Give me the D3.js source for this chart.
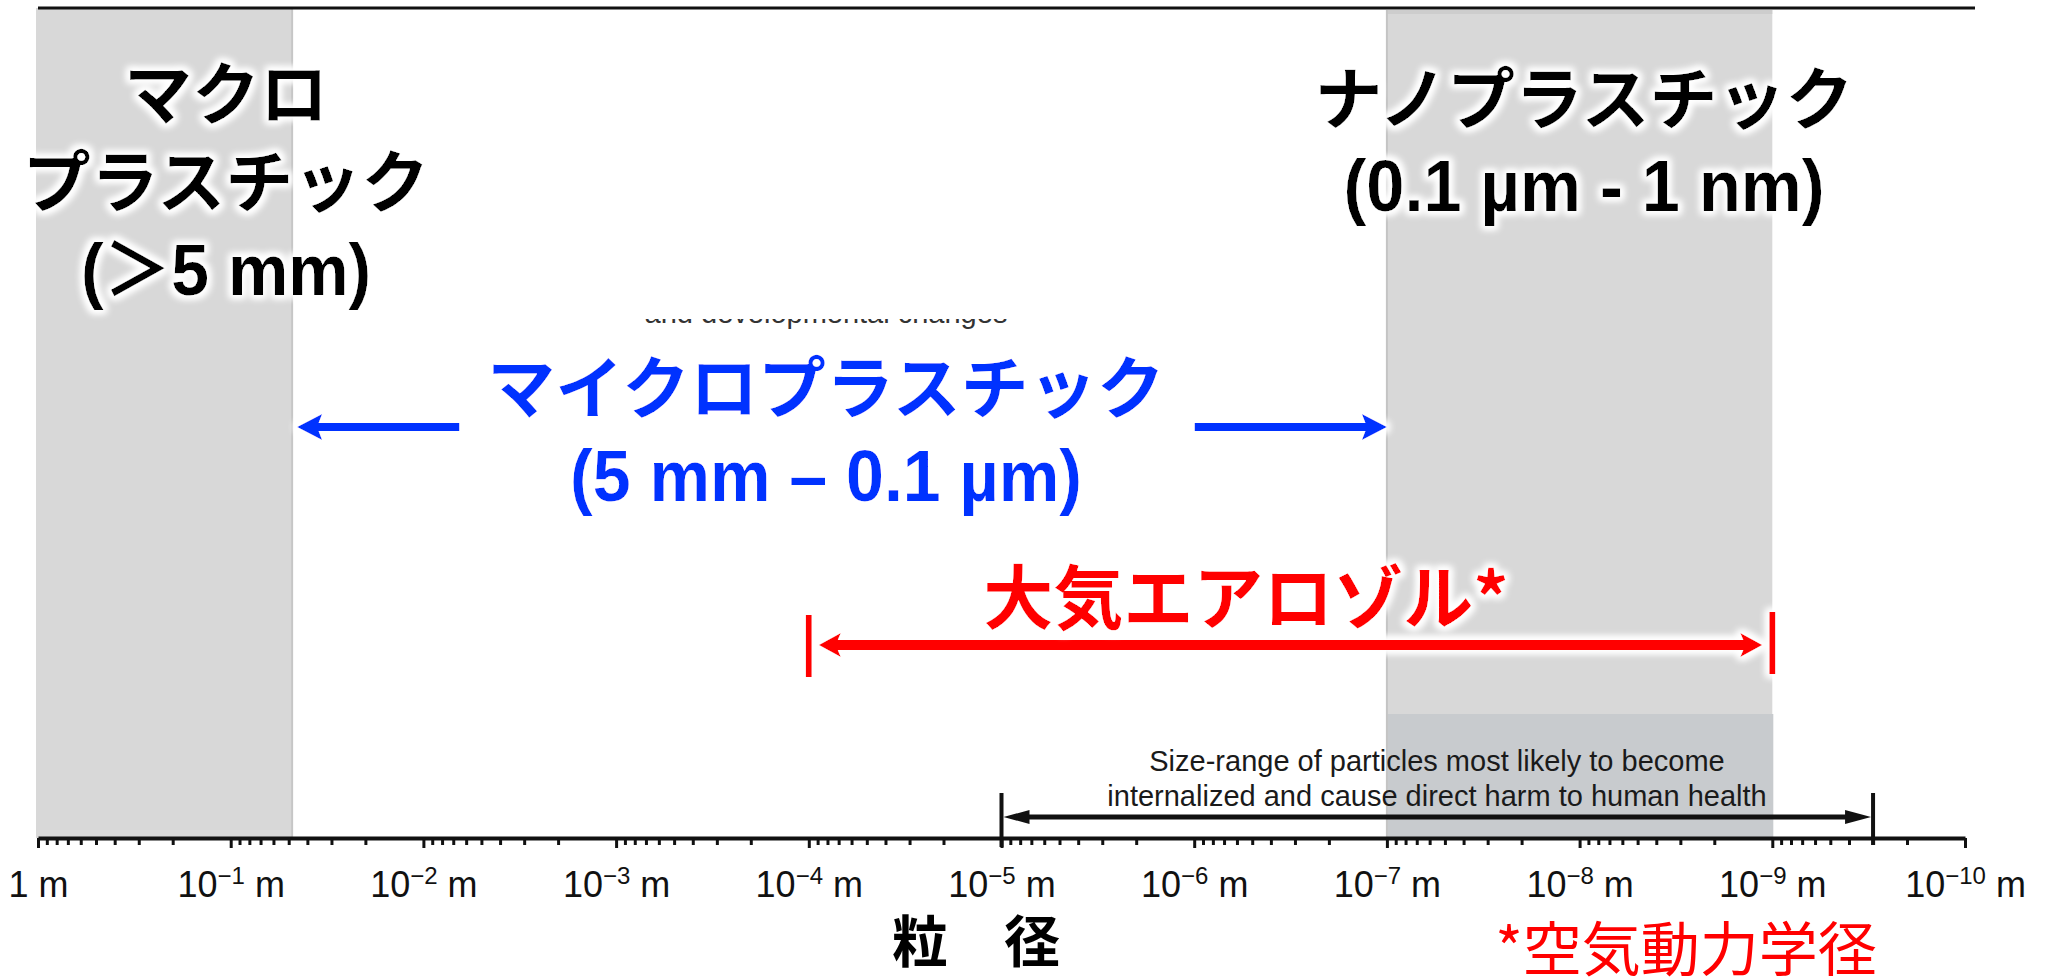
<!DOCTYPE html>
<html>
<head>
<meta charset="utf-8">
<script src="https://cdn.jsdelivr.net/npm/d3@7"></script>
<style>
  body { margin: 0; background: #fff; }
  svg { display: block; }
</style>
</head>
<body>
<script>
// particle size ranges in metres (axis runs from 1 m down to 1e-10 m)
var tickExponents = [0, -1, -2, -3, -4, -5, -6, -7, -8, -9, -10];
var macroRange = [1, 0.048];
var nanoRange = [1e-7, 1e-9];
var microRange = [0.048, 1e-7];
var aerosolRange = [1e-4, 1e-9];
var harmRange = [1e-5, 3e-10];

var macroLines = ["マクロ", "プラスチック", "(＞5 mm)"];
var nanoLines = ["ナノプラスチック", "(0.1 µm - 1 nm)"];
var microLines = ["マイクロプラスチック", "(5 mm – 0.1 µm)"];
var aerosolLabel = "大気エアロゾル*";
var harmLines = ["Size-range of particles most likely to become", "internalized and cause direct harm to human health"];
var leftoverText = "and developmental changes";
var axisTitle = "粒　径";
var footnote = "*空気動力学径";

var W = 2048, H = 977;
var axisY = 838;
var JP = "'Noto Sans CJK JP', sans-serif";
var LAT = "'Liberation Sans', Arial, 'Noto Sans CJK JP', sans-serif";

var svg = d3.select("body").append("svg").attr("width", W).attr("height", H);
svg.append("rect").attr("width", W).attr("height", H).attr("fill", "#fff");

var defs = svg.append("defs");
var glow = defs.append("filter").attr("id", "glow")
  .attr("x", "-20%").attr("y", "-40%").attr("width", "140%").attr("height", "180%");
glow.append("feMorphology").attr("in", "SourceAlpha").attr("operator", "dilate").attr("radius", 3).attr("result", "d");
glow.append("feGaussianBlur").attr("in", "d").attr("stdDeviation", 3.5).attr("result", "b");
glow.append("feFlood").attr("flood-color", "#fff");
glow.append("feComposite").attr("in2", "b").attr("operator", "in").attr("result", "g");
var gm = glow.append("feMerge");
gm.append("feMergeNode").attr("in", "g");
gm.append("feMergeNode").attr("in", "g");
gm.append("feMergeNode").attr("in", "SourceGraphic");

defs.append("clipPath").attr("id", "leftClip")
  .append("rect").attr("x", 0).attr("y", 319).attr("width", W).attr("height", 20);

var x = d3.scaleLog().domain([1, 1e-10]).range([38, 1965]);

// grey bands
svg.append("rect")
  .attr("x", x(macroRange[0]) - 2).attr("y", 8)
  .attr("width", x(macroRange[1]) - x(macroRange[0]) + 2).attr("height", axisY - 8)
  .attr("fill", "#d8d8d8");
svg.append("line")
  .attr("x1", x(macroRange[1])).attr("x2", x(macroRange[1]))
  .attr("y1", 8).attr("y2", axisY).attr("stroke", "#c6c6c6").attr("stroke-width", 2);

svg.append("rect")
  .attr("x", x(nanoRange[0])).attr("y", 10)
  .attr("width", x(nanoRange[1]) - x(nanoRange[0])).attr("height", axisY - 10)
  .attr("fill", "#d8d8d8");
svg.append("rect")
  .attr("x", x(nanoRange[0])).attr("y", 10)
  .attr("width", x(nanoRange[1]) - x(nanoRange[0])).attr("height", 4)
  .attr("fill", "#cdcdcd");
svg.append("rect")
  .attr("x", x(nanoRange[0])).attr("y", 714)
  .attr("width", x(nanoRange[1]) - x(nanoRange[0]) + 1).attr("height", axisY - 714)
  .attr("fill", "#c8cbce");
svg.append("line")
  .attr("x1", x(nanoRange[0])).attr("x2", x(nanoRange[0]))
  .attr("y1", 10).attr("y2", axisY).attr("stroke", "#c4c4c4").attr("stroke-width", 2);

// top rule
svg.append("line").attr("x1", 38).attr("x2", 1975).attr("y1", 8).attr("y2", 8)
  .attr("stroke", "#111").attr("stroke-width", 3);

// leftover text fragment (only its lower edge shows)
svg.append("text")
  .attr("x", 826).attr("y", 323)
  .attr("text-anchor", "middle")
  .attr("clip-path", "url(#leftClip)")
  .style("font-family", LAT).style("font-size", "29px").attr("fill", "#333")
  .text(leftoverText);

// axis
var minorTicks = [];
tickExponents.slice(0, -1).forEach(function(e) {
  for (var k = 2; k <= 9; k++) minorTicks.push(k * Math.pow(10, e - 1));
});
var majorTicks = tickExponents.map(function(e) { return Math.pow(10, e); });

var axisG = svg.append("g").attr("transform", "translate(0," + axisY + ")");
axisG.append("g")
  .call(d3.axisBottom(x).tickValues(minorTicks).tickFormat("").tickSize(7).tickSizeOuter(0))
  .call(function(g) { g.select(".domain").remove(); g.selectAll("text").remove(); })
  .selectAll("line").attr("stroke", "#111").attr("stroke-width", 3);
var majorAxis = axisG.append("g")
  .call(d3.axisBottom(x).tickValues(majorTicks).tickSize(10).tickSizeOuter(0));
majorAxis.select(".domain").attr("stroke", "#111").attr("stroke-width", 4);
majorAxis.selectAll(".tick line").attr("stroke", "#111").attr("stroke-width", 3);
majorAxis.selectAll(".tick text").each(function(d, i) {
  var t = d3.select(this).text("")
    .attr("y", 59).attr("dy", null)
    .attr("fill", "#111")
    .style("font-family", LAT).style("font-size", "36px");
  var e = tickExponents[i];
  if (e === 0) {
    t.append("tspan").text("1 m");
  } else {
    t.append("tspan").text("10");
    t.append("tspan").attr("dy", -13).style("font-size", "24px").text("\u2212" + Math.abs(e));
    t.append("tspan").attr("dy", 13).text(" m");
  }
});

// glowing labels; latin lines get a fixed width (the source font is taller/narrower)
function block(lines, cx, y0, step, size, color, widths) {
  var t = svg.append("text")
    .attr("text-anchor", "middle")
    .attr("filter", "url(#glow)")
    .attr("fill", color)
    .style("font-weight", 700);
  lines.forEach(function(s, i) {
    var jp = /^[\u3040-\u30ff\u4e00-\u9fff]/.test(s);
    var sp = t.append("tspan").attr("x", cx).attr("y", y0 + i * step)
      .style("font-family", jp ? JP : LAT)
      .style("font-size", (jp ? size : size + 4) + "px")
      .text(s);
    if (widths && widths[i]) sp.attr("textLength", widths[i]).attr("lengthAdjust", "spacingAndGlyphs");
  });
  return t;
}

block(macroLines, 226, 119, 88, 68, "#000", [0, 0, 290]);
block(nanoLines, 1584, 124, 87, 68, "#000", [0, 481]);

var micro = block(microLines, 826, 413, 88, 68, "#0033ff", [0, 512]);

// micro arrows, broken around the title
var bb = micro.node().getBBox();
var arrowY = 427;
function arrowHead(g, tipX, y, dir, color, len, half) {
  g.append("path")
    .attr("d", "M" + tipX + "," + y +
      " L" + (tipX + dir * len) + "," + (y - half) +
      " L" + (tipX + dir * (len - 5)) + "," + y +
      " L" + (tipX + dir * len) + "," + (y + half) + "Z")
    .attr("fill", color);
}
var blueG = svg.append("g").attr("filter", "url(#glow)");
var mL = x(microRange[0]) + 5, mR = x(microRange[1]);
blueG.append("line").attr("x1", mL + 10).attr("x2", bb.x - 28)
  .attr("y1", arrowY).attr("y2", arrowY).attr("stroke", "#0033ff").attr("stroke-width", 8);
blueG.append("line").attr("x1", bb.x + bb.width + 30).attr("x2", mR - 10)
  .attr("y1", arrowY).attr("y2", arrowY).attr("stroke", "#0033ff").attr("stroke-width", 8);
arrowHead(blueG, mL, arrowY, 1, "#0033ff", 25, 13);
arrowHead(blueG, mR, arrowY, -1, "#0033ff", 25, 13);

// aerosol range
var redG = svg.append("g").attr("filter", "url(#glow)");
var aL = x(aerosolRange[0]), aR = x(aerosolRange[1]);
var redY = 645;
redG.append("line").attr("x1", aL + 20).attr("x2", aR - 20).attr("y1", redY).attr("y2", redY)
  .attr("stroke", "#ff0000").attr("stroke-width", 10);
arrowHead(redG, aL + 10, redY, 1, "#ff0000", 22, 12);
arrowHead(redG, aR - 10, redY, -1, "#ff0000", 22, 12);
redG.append("rect").attr("x", aL - 3).attr("y", 615).attr("width", 6).attr("height", 62).attr("fill", "#ff0000");
redG.append("rect").attr("x", aR - 3).attr("y", 612).attr("width", 6).attr("height", 62).attr("fill", "#ff0000");
block([aerosolLabel], 1246, 624, 0, 70, "#ff0000");

// harm range
var hL = x(harmRange[0]), hR = x(harmRange[1]);
var harmY = 817;
svg.append("line").attr("x1", hL + 20).attr("x2", hR - 20).attr("y1", harmY).attr("y2", harmY)
  .attr("stroke", "#111").attr("stroke-width", 5);
svg.append("path").attr("d", "M" + (hL + 2) + "," + harmY + " l26,-7 l0,14 Z").attr("fill", "#111");
svg.append("path").attr("d", "M" + (hR - 2) + "," + harmY + " l-26,-7 l0,14 Z").attr("fill", "#111");
svg.append("rect").attr("x", hL - 2).attr("y", 793).attr("width", 4).attr("height", 54).attr("fill", "#111");
svg.append("rect").attr("x", hR - 2).attr("y", 793).attr("width", 4).attr("height", 52).attr("fill", "#111");

svg.append("g").selectAll("text").data(harmLines).enter().append("text")
  .attr("x", 1437).attr("y", function(d, i) { return 771 + i * 35; })
  .attr("text-anchor", "middle")
  .attr("fill", "#1a1a1a")
  .style("font-family", LAT).style("font-size", "29px")
  .text(function(d) { return d; });

// axis title and footnote
svg.append("text").attr("x", 976).attr("y", 962).attr("text-anchor", "middle")
  .style("font-family", JP).style("font-weight", 700).style("font-size", "56px")
  .attr("fill", "#000").text(axisTitle);
svg.append("text").attr("x", 1686).attr("y", 971).attr("text-anchor", "middle")
  .style("font-family", JP).style("font-size", "59px")
  .attr("fill", "#ff0000").text(footnote);
</script>
</body>
</html>
